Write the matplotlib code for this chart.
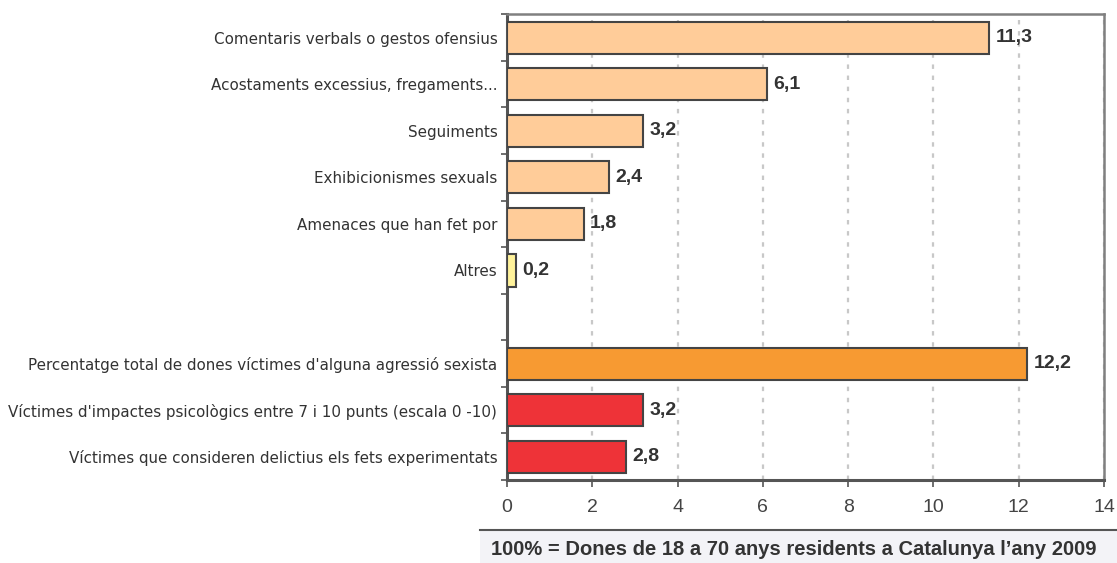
import matplotlib
matplotlib.use("Agg")
import matplotlib.pyplot as plt
from matplotlib.patches import Rectangle
from matplotlib.lines import Line2D
import numpy as np

categories = [
    "Comentaris verbals o gestos ofensius",
    "Acostaments excessius, fregaments...",
    "Seguiments",
    "Exhibicionismes sexuals",
    "Amenaces que han fet por",
    "Altres",
    "Percentatge total de dones víctimes d'alguna agressió sexista",
    "Víctimes d'impactes psicològics entre 7 i 10 punts (escala 0 -10)",
    "Víctimes que consideren delictius els fets experimentats",
]
values = [11.3, 6.1, 3.2, 2.4, 1.8, 0.2, 12.2, 3.2, 2.8]
value_labels = ["11,3", "6,1", "3,2", "2,4", "1,8", "0,2", "12,2", "3,2", "2,8"]
bar_colors = ["#FFCC99", "#FFCC99", "#FFCC99", "#FFCC99", "#FFCC99", "#FFF29A",
              "#F79A32", "#EE3338", "#EE3338"]
xticks = [0, 2, 4, 6, 8, 10, 12, 14]
note = "100% = Dones de 18 a 70 anys residents a Catalunya l\u2019any 2009"

# slot positions (one empty slot after "Altres")
slots = [0, 1, 2, 3, 4, 5, 7, 8, 9]

arial = ["Liberation Sans", "DejaVu Sans"]
regular = ["DejaVu Sans"]

fig = plt.figure(figsize=(11.17, 5.63), dpi=100)
ax = fig.add_axes([507 / 1117, 1 - 480 / 563, (1104 - 507) / 1117, (480 - 14.3) / 563])

ax.barh(slots, values, height=0.69, color=bar_colors, edgecolor="#444444",
        linewidth=1.5, zorder=3)

for s, v, lab in zip(slots, values, value_labels):
    ax.text(v + 0.15, s, lab, va="center", ha="left", fontsize=14,
            fontweight="bold", color="#333333", family=arial, zorder=4)

ax.set_xlim(0, 14)
ax.set_ylim(9.5, -0.5)
ax.set_xticks(xticks)
ax.set_xticklabels([str(t) for t in xticks], family=arial, fontsize=14,
                   color="#444444")
ax.set_yticks(slots)
ax.set_yticklabels(categories, family=regular, fontsize=10.9, color="#333333")
ax.tick_params(axis="y", length=0, pad=7)
ax.tick_params(axis="x", length=5, width=1.2, color="#555555", pad=9)

# minor y ticks at slot boundaries
ax.set_yticks(np.arange(-0.5, 10, 1), minor=True)
ax.tick_params(axis="y", which="minor", length=4, width=1.2, color="#555555")

ax.xaxis.grid(True, linestyle=(0, (2, 3)), color="#C8C8C8", linewidth=1.6, zorder=0)
ax.set_axisbelow(True)

for side in ["left", "bottom"]:
    ax.spines[side].set_color("#555555")
    ax.spines[side].set_linewidth(2.2)
for side in ["top", "right"]:
    ax.spines[side].set_color("#808080")
    ax.spines[side].set_linewidth(1.8)

# note box
fig.patches.append(Rectangle((480 / 1117, 0), 1 - 480 / 1117, (563 - 530) / 563,
                             transform=fig.transFigure, facecolor="#F3F3F7",
                             edgecolor="none", zorder=0))
fig.lines.append(Line2D([480 / 1117, 1], [1 - 530 / 563] * 2, transform=fig.transFigure,
                        color="#555555", linewidth=1.5))
fig.text(491 / 1117, 1 - 549.5 / 563, note, ha="left", va="center", fontsize=14.5,
         fontweight="bold", color="#333333", family=arial)

fig.savefig("out.png", dpi=100)
